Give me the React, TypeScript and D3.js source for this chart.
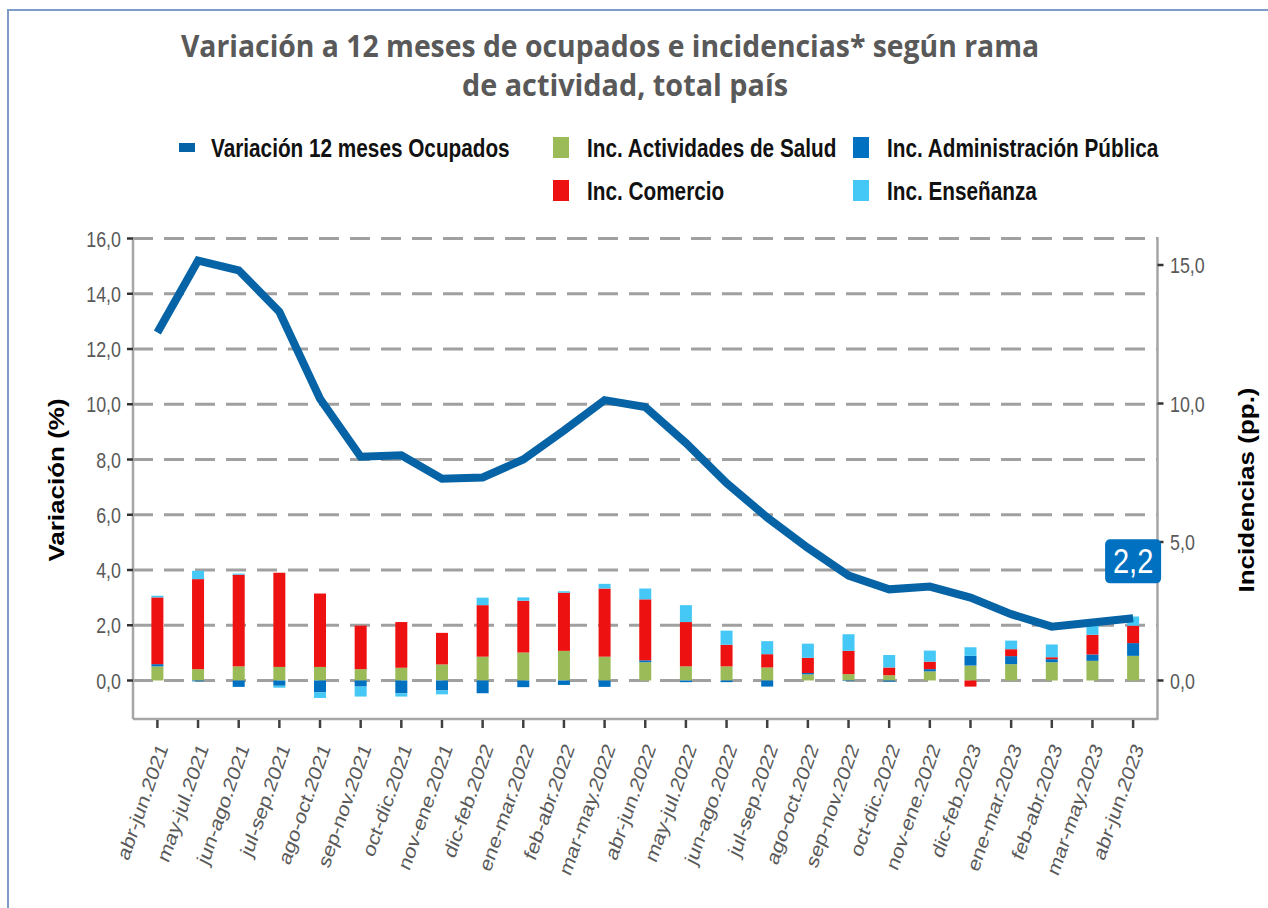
import React from 'react';
import * as d3 from 'd3';

const categories = [
  'abr-jun.2021', 'may-jul.2021', 'jun-ago.2021', 'jul-sep.2021', 'ago-oct.2021',
  'sep-nov.2021', 'oct-dic.2021', 'nov-ene.2021', 'dic-feb.2022', 'ene-mar.2022',
  'feb-abr.2022', 'mar-may.2022', 'abr-jun.2022', 'may-jul.2022', 'jun-ago.2022',
  'jul-sep.2022', 'ago-oct.2022', 'sep-nov.2022', 'oct-dic.2022', 'nov-ene.2022',
  'dic-feb.2023', 'ene-mar.2023', 'feb-abr.2023', 'mar-may.2023', 'abr-jun.2023',
];

// Variación 12 meses Ocupados (%), eje izquierdo
const ocupados = [
  12.6, 15.2, 14.85, 13.35, 10.2, 8.1, 8.15, 7.3, 7.35, 8.0, 9.05, 10.15, 9.9,
  8.6, 7.15, 5.9, 4.8, 3.8, 3.3, 3.4, 3.0, 2.4, 1.95, 2.1, 2.25,
];

// Incidencias (pp.), eje derecho
const incSalud = [
  0.51, 0.41, 0.51, 0.49, 0.49, 0.41, 0.46, 0.58, 0.86, 1.01, 1.07, 0.86, 0.66,
  0.51, 0.51, 0.47, 0.22, 0.23, 0.19, 0.33, 0.54, 0.59, 0.66, 0.71, 0.89,
];
const incAdmin = [
  0.08, -0.03, -0.23, -0.19, -0.43, -0.22, -0.46, -0.36, -0.46, -0.24, -0.16, -0.23, 0.07,
  -0.06, -0.06, -0.22, 0.05, -0.02, -0.04, 0.08, 0.35, 0.29, 0.11, 0.23, 0.46,
];
const incComercio = [
  2.41, 3.25, 3.31, 3.4, 2.65, 1.57, 1.65, 1.14, 1.86, 1.87, 2.1, 2.46, 2.2,
  1.6, 0.78, 0.48, 0.55, 0.84, 0.28, 0.27, -0.22, 0.25, 0.07, 0.71, 0.63,
];
const incEnsenanza = [
  0.06, 0.3, 0.04, -0.07, -0.2, -0.36, -0.12, -0.14, 0.27, 0.12, 0.05, 0.17, 0.39,
  0.61, 0.51, 0.47, 0.51, 0.6, 0.45, 0.4, 0.31, 0.31, 0.46, 0.34, 0.33,
];

const leftTicks = [0, 2, 4, 6, 8, 10, 12, 14, 16];
const rightTicks = [0, 5, 10, 15];
const lastLabel = '2,2';

const LINE_BLUE = '#0563a6';
const COLORS: Record<string, string> = {
  salud: '#9bbb59',
  admin: '#0070c0',
  comercio: '#ee1111',
  ensenanza: '#45c8f5',
};
const FONT = '"Liberation Sans", Arial, sans-serif';
const SX = 0.83; // the source picture is horizontally condensed

const fmt = (v: number) => v.toFixed(1).replace('.', ',');

export default function App() {
  const W = 1268;
  const H = 908;
  const plotLeft = 133;
  const plotRight = 1157.5;
  const plotBottom = 719;

  const x = d3.scalePoint<string>().domain(categories).range([plotLeft, plotRight]).padding(0.6);
  const yLeft = d3.scaleLinear().domain([0, 16]).range([680.5, 238.5]);
  const yRight = d3.scaleLinear().domain([0, 15]).range([680.5, 265]);

  const rows = categories.map((c, i) => ({
    cat: c,
    salud: incSalud[i],
    admin: incAdmin[i],
    comercio: incComercio[i],
    ensenanza: incEnsenanza[i],
  }));
  const series = d3
    .stack<any>()
    .keys(['salud', 'admin', 'comercio', 'ensenanza'])
    .offset(d3.stackOffsetDiverging)(rows);

  const line = d3
    .line<number>()
    .x((d, i) => x(categories[i]) as number)
    .y((d) => yLeft(d));

  const barW = 12;
  const last = ocupados.length - 1;
  const lx = x(categories[last]) as number;
  const ly = yLeft(ocupados[last]) - 57;

  const legend = [
    { label: 'Variación 12 meses Ocupados', color: LINE_BLUE, x: 179, row: 0, line: true },
    { label: 'Inc. Actividades de Salud', color: COLORS.salud, x: 553, row: 0 },
    { label: 'Inc. Administración Pública', color: COLORS.admin, x: 853, row: 0 },
    { label: 'Inc. Comercio', color: COLORS.comercio, x: 553, row: 1 },
    { label: 'Inc. Enseñanza', color: COLORS.ensenanza, x: 853, row: 1 },
  ];

  return (
    <svg
      width={W}
      height={H}
      style={{ position: 'absolute', left: 0, top: 0, background: '#fff' }}
    >
      <rect x={0} y={0} width={W} height={H} fill="#fff" />
      <path d={`M8,${H} V10 H${W}`} fill="none" stroke="#7e9cc9" strokeWidth={2} />

      {/* title */}
      <g fill="#595959" fontFamily='"Open Sans", sans-serif' fontWeight="bold" fontSize={30} textAnchor="middle">
        <text transform="translate(610,57) scale(0.945,1)">
          Variación a 12 meses de ocupados e incidencias* según rama
        </text>
        <text transform="translate(625,96) scale(0.96,1)">de actividad, total país</text>
      </g>

      {/* legend */}
      <g fontFamily={FONT} fontWeight="bold" fontSize={25} fill="#111">
        {legend.map((d) => {
          const base = d.row === 0 ? 157 : 200;
          return (
            <g key={d.label}>
              {d.line ? (
                <rect x={d.x} y={base - 14} width={16} height={9} fill={d.color} />
              ) : (
                <rect x={d.x} y={base - 20} width={16} height={21} fill={d.color} />
              )}
              <text transform={`translate(${d.x + (d.line ? 32 : 34)},${base}) scale(${SX},1)`}>
                {d.label}
              </text>
            </g>
          );
        })}
      </g>

      {/* grid */}
      {leftTicks.map((t) => (
        <line
          key={t}
          x1={plotLeft}
          x2={plotRight}
          y1={yLeft(t)}
          y2={yLeft(t)}
          stroke="#a0a0a0"
          strokeWidth={3}
          strokeDasharray="20 11"
        />
      ))}

      {/* bars */}
      {series.map((s) => (
        <g key={s.key} fill={COLORS[s.key]}>
          {s.map((d, i) => {
            const y0 = yRight(d[0]);
            const y1 = yRight(d[1]);
            return (
              <rect
                key={i}
                x={(x(categories[i]) as number) - barW / 2}
                y={Math.min(y0, y1)}
                width={barW}
                height={Math.abs(y0 - y1)}
              />
            );
          })}
        </g>
      ))}

      {/* axes frame */}
      <g stroke="#a6a6a6" strokeWidth={2.5} fill="none">
        <line x1={plotLeft} x2={plotLeft} y1={238} y2={plotBottom} />
        <line x1={plotRight} x2={plotRight} y1={237} y2={plotBottom} />
        <line x1={plotLeft} x2={plotRight + 1} y1={plotBottom} y2={plotBottom} />
      </g>

      {/* left axis */}
      <g fontFamily={FONT} fontSize={21.5} fill="#595959">
        {leftTicks.map((t) => (
          <g key={t}>
            <line x1={127} x2={plotLeft} y1={yLeft(t)} y2={yLeft(t)} stroke="#333" strokeWidth={2.5} />
            <text transform={`translate(121,${yLeft(t) + 8}) scale(${SX},1)`} textAnchor="end">
              {fmt(t)}
            </text>
          </g>
        ))}
      </g>

      {/* right axis */}
      <g fontFamily={FONT} fontSize={21.5} fill="#595959">
        {rightTicks.map((t) => (
          <g key={t}>
            <line x1={plotRight} x2={plotRight + 6} y1={yRight(t)} y2={yRight(t)} stroke="#333" strokeWidth={2.5} />
            <text transform={`translate(1170,${yRight(t) + 8}) scale(${SX},1)`}>{fmt(t)}</text>
          </g>
        ))}
      </g>

      {/* x axis */}
      <g fontFamily={FONT} fontSize={22} fill="#595959">
        {categories.map((c) => {
          const cx = x(c) as number;
          return (
            <g key={c}>
              <line x1={cx} x2={cx} y1={plotBottom + 1} y2={plotBottom + 9} stroke="#404040" strokeWidth={2.5} />
              <text
                transform={`translate(${cx + 11},${plotBottom + 29}) scale(${SX},1) rotate(-67)`}
                textAnchor="end"
              >
                {c}
              </text>
            </g>
          );
        })}
      </g>

      {/* line */}
      <path d={line(ocupados) || ''} fill="none" stroke={LINE_BLUE} strokeWidth={8} strokeLinejoin="miter" />

      {/* last value label */}
      <rect x={lx - 28} y={ly - 22} width={56} height={44} rx={5} fill={COLORS.admin} />
      <text
        transform={`translate(${lx},${ly + 12}) scale(${SX},1)`}
        textAnchor="middle"
        fontFamily={FONT}
        fontSize={35}
        fill="#fff"
      >
        {lastLabel}
      </text>

      {/* axis titles */}
      <text
        transform={`translate(64,480) scale(${SX},1) rotate(-90)`}
        textAnchor="middle"
        fontFamily={FONT}
        fontWeight="bold"
        fontSize={26}
        fill="#000"
      >
        Variación (%)
      </text>
      <text
        transform={`translate(1254,490) scale(${SX},1) rotate(-90)`}
        textAnchor="middle"
        fontFamily={FONT}
        fontWeight="bold"
        fontSize={26}
        fill="#000"
      >
        Incidencias (pp.)
      </text>
    </svg>
  );
}
